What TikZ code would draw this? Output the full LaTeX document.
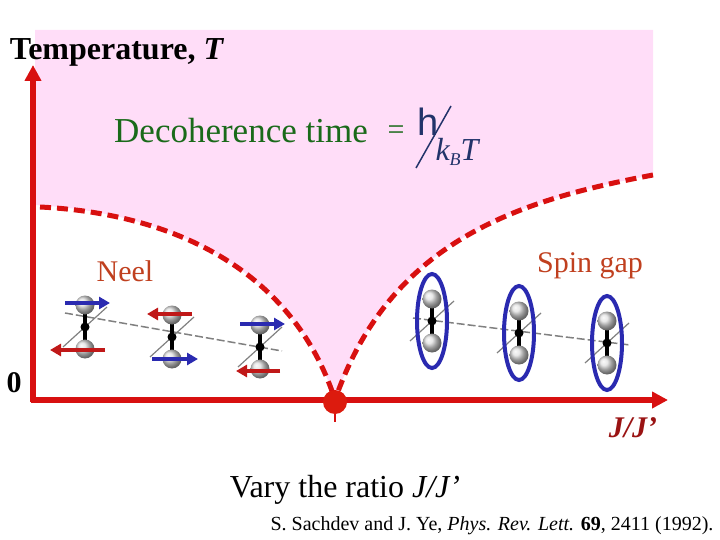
\documentclass[tikz,border=0pt]{standalone}
\usepackage{fontspec}
\setmainfont{Liberation Serif}
\newfontfamily\sansf{Liberation Sans}
\usetikzlibrary{arrows.meta}
\definecolor{pinkbg}{HTML}{FFDDF8}
\definecolor{axred}{HTML}{D81010}
\definecolor{txtred}{HTML}{C0401F}
\definecolor{dgreen}{HTML}{1A6A1A}
\definecolor{fblue}{HTML}{22336A}
\definecolor{spinblue}{HTML}{2A2AB0}
\definecolor{spinred}{HTML}{C01818}
\tikzset{
 ball/.style={shade,ball color=gray!25,draw=none},
 bond/.style={line width=4pt,black},
 guide/.style={gray,dash pattern=on 8pt off 3pt,line width=1.5pt},
 diag/.style={gray,line width=1.2pt},
 sarr/.style={line width=3.4pt,-{Triangle[length=11pt,width=12pt]}},
 crit/.style={axred,line width=5pt,dash pattern=on 11pt off 6pt},
 lbl/.style={inner sep=0pt}
}
\newcommand{\dimer}[2]{%
 \draw[diag] (#1-22,#2+20) -- (#1+22,#2-20);
 \draw[bond] (#1,#2-22) -- (#1,#2+22);
 \shade[ball] (#1,#2-22) circle (9.5);
 \shade[ball] (#1,#2+22) circle (9.5);
 \fill (#1,#2) circle (4.5);}
\begin{document}
\begin{tikzpicture}[x=1pt,y=-1pt]
\useasboundingbox (0,0) rectangle (720,540);
\fill[pinkbg] (35,30) -- (653,30) -- (653,175)
 .. controls (520,200) and (390,240) .. (335,400)
 .. controls (300,290) and (200,215) .. (35,205) -- cycle;
\draw[crit] (653,175) .. controls (520,200) and (390,240) .. (335,400);
\draw[crit] (40,207) .. controls (200,215) and (300,290) .. (335,400);
\draw[axred,line width=5.5pt,-{Triangle[length=16pt,width=16pt]}] (33,402) -- (33,65);
\draw[axred,line width=5.5pt,-{Triangle[length=16pt,width=16pt]}] (31,400) -- (668,400);
\draw[axred,line width=2.5pt] (335,400) -- (335,422);
\fill[axred!90!orange] (335,402) circle (12);
\node[lbl,font=\bfseries\fontsize{32}{34}\selectfont] (tl) at (117,52) {Temperature, \textit{T}};
\node[lbl,font=\bfseries\fontsize{30}{32}\selectfont] (zero) at (14,383) {0};
\node[lbl,font=\bfseries\itshape\fontsize{30}{32}\selectfont,text=spinred!80!black] (jj) at (633,428) {J/J’};
\node[lbl,font=\fontsize{35}{38}\selectfont,text=dgreen] (dt) at (241,131) {Decoherence time};
\node[lbl,font=\fontsize{30}{32}\selectfont,text=dgreen] (eq) at (396,133) {=};
\node[lbl,font=\sansf\fontsize{38}{40}\selectfont,text=fblue] (hh) at (428,122) {h};
\draw[fblue,line width=1.5pt] (451,106) -- (416,168);
\node[lbl,font=\itshape\fontsize{32}{34}\selectfont,text=fblue] (kt) at (457,152) {k\raisebox{-5pt}{\fontsize{18}{18}\selectfont B}T};
\node[lbl,font=\fontsize{30}{32}\selectfont,text=txtred] (neel) at (125,271) {Neel};
\node[lbl,font=\fontsize{30}{32}\selectfont,text=txtred] (sg) at (590,266) {Spin gap};
\node[lbl,font=\fontsize{32}{34}\selectfont] (vary) at (345,490) {Vary the ratio \textit{J/J’}};
\node[lbl,font=\fontsize{20}{22}\selectfont] (cite) at (492,526) {S. Sachdev and J. Ye, \textit{Phys. Rev. Lett.} \textbf{69}, 2411 (1992).};
\draw[guide] (65,313) -- (282,351);
\dimer{85}{327}\dimer{172}{337}\dimer{260}{347}
\draw[sarr,spinblue] (65,303) -- (110,303);
\draw[sarr,spinred] (105,350) -- (50,350);
\draw[sarr,spinred] (192,314) -- (147,314);
\draw[sarr,spinblue] (152,359) -- (198,359);
\draw[sarr,spinblue] (240,324) -- (285,324);
\draw[sarr,spinred] (280,371) -- (236,371);
\draw[guide] (413,318) -- (630,345);
\dimer{432}{321}\dimer{519}{333}\dimer{607}{343}
\draw[spinblue,line width=4pt] (432,321) ellipse (15 and 47);
\draw[spinblue,line width=4pt] (519,333) ellipse (15 and 47);
\draw[spinblue,line width=4pt] (607,343) ellipse (15 and 47);
\end{tikzpicture}
\end{document}
